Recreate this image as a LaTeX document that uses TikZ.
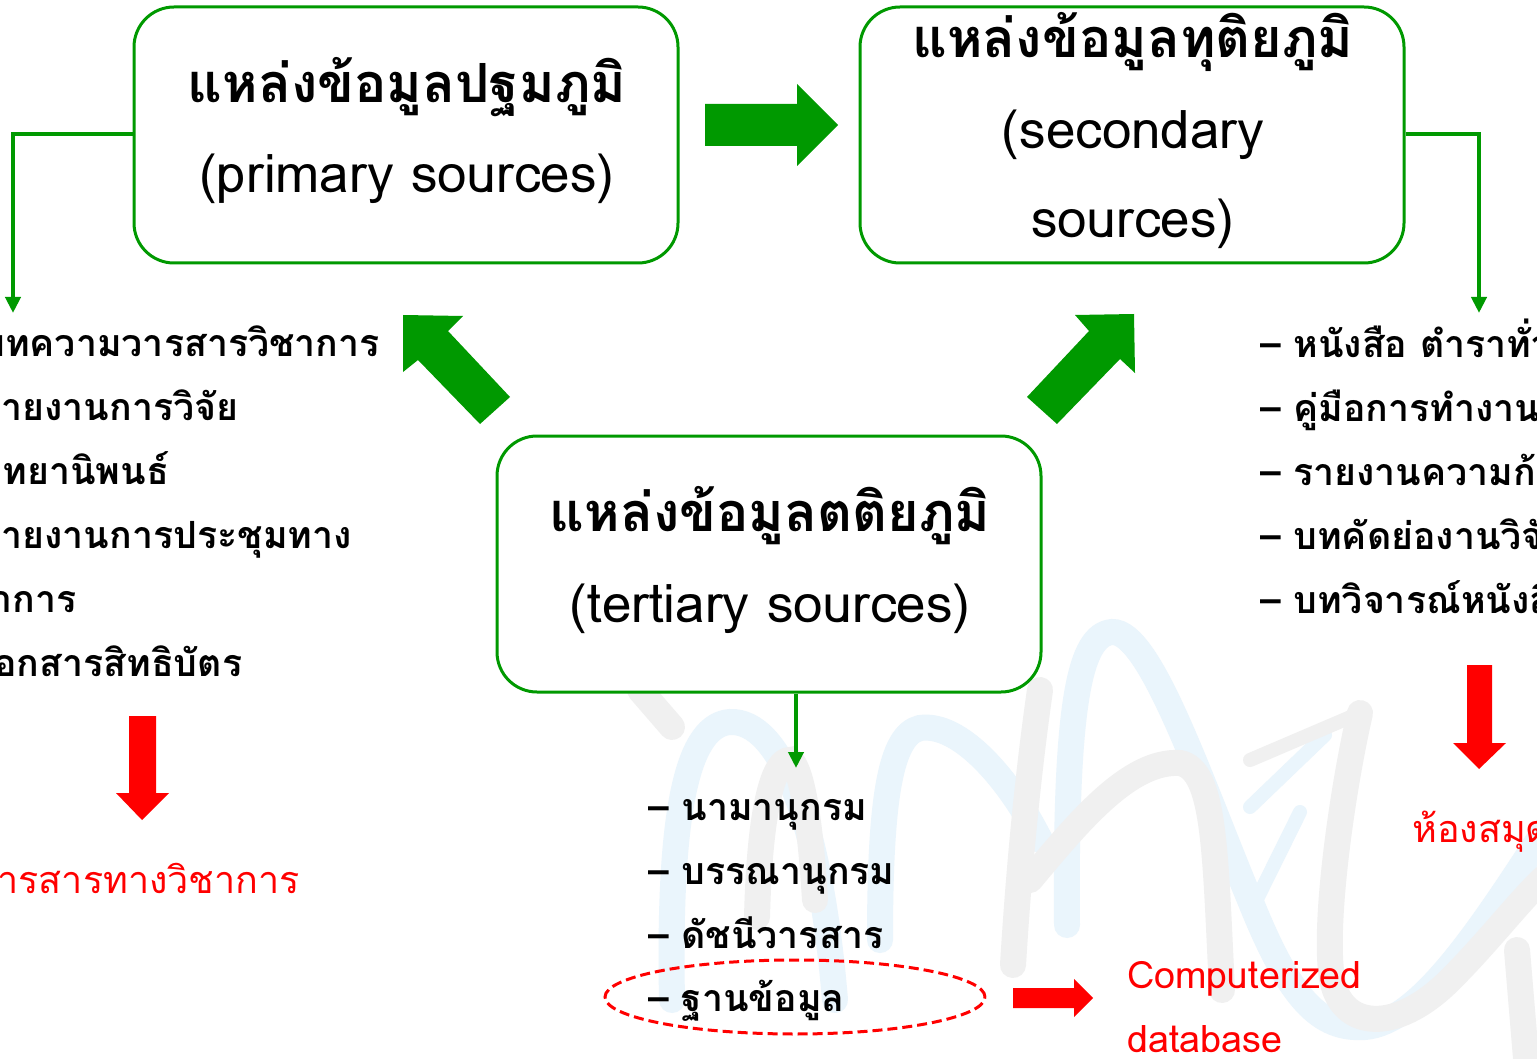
\documentclass[tikz,border=0pt]{standalone}
\usepackage{fontspec}
\usetikzlibrary{arrows.meta,shapes.geometric}
\newfontfamily\thai[Script=Thai]{Loma}
\definecolor{grn}{RGB}{0,153,0}
\definecolor{rd}{RGB}{255,0,0}
\definecolor{wmgray}{RGB}{240,240,240}
\definecolor{wmblue}{RGB}{234,245,252}
\tikzset{
  srcbox/.style={draw=grn, line width=3pt, rounded corners=40pt, fill=white,
    minimum width=544pt, minimum height=256pt, inner sep=0pt},
  title/.style={anchor=base, inner sep=0pt, font=\thai\fontsize{53}{60}\selectfont},
  ttitle/.style={anchor=base, inner sep=0pt, font=\thai\bfseries\fontsize{54}{60}\selectfont},
  item/.style={anchor=base west, inner sep=0pt, font=\thai\bfseries\fontsize{37.5}{44}\selectfont},
  redtxt/.style={anchor=base west, inner sep=0pt, text=rd, font=\thai\fontsize{37.7}{44}\selectfont},
  link/.style={draw=grn, line width=4.5pt, -{Triangle[width=15pt,length=16pt]}},
  wm/.style={line width=26pt, line cap=round},
  bigarrow/.style={fill=grn, draw=none},
  redarrow/.style={fill=rd, draw=none}
}
\begin{document}
\begin{tikzpicture}[x=1pt,y=-1pt]
\fill[white] (0,0) rectangle (1537,1059);
\useasboundingbox (0,0) rectangle (1537,1059);
% watermark
\draw[wm, wmblue] (672,1000) .. controls (668,800) and (690,725) .. (730,722) .. controls (780,720) and (820,820) .. (835,1000);
\draw[wm, wmblue] (880,940) .. controls (880,800) and (890,735) .. (920,728) .. controls (960,722) and (1010,780) .. (1040,840);
\draw[wm, wmblue] (1067,925) .. controls (1065,700) and (1080,635) .. (1112,632) .. controls (1150,630) and (1200,780) .. (1250,900) .. controls (1290,1000) and (1320,1030) .. (1365,1027) .. controls (1420,1022) and (1480,930) .. (1545,830);
\draw[wm, wmblue, line width=14pt] (1250,807) -- (1325,735);
\draw[wm, wmblue, line width=14pt] (1255,903) -- (1300,812);
\draw[wm, wmgray] (640,690) -- (672,727);
\draw[wm, wmgray] (757,917) .. controls (760,800) and (775,760) .. (790,760) .. controls (805,770) and (812,850) .. (815,900);
\draw[wm, wmgray] (1013,965) .. controls (1020,850) and (1030,760) .. (1040,690);
\draw[wm, wmgray] (1030,880) .. controls (1080,820) and (1130,760) .. (1180,763) .. controls (1215,770) and (1215,850) .. (1222,990);
\draw[wm, wmgray, line width=14pt] (1250,760) -- (1360,713);
\draw[wm, wmgray] (1360,713) .. controls (1340,800) and (1320,950) .. (1335,990) .. controls (1350,1030) and (1400,1030) .. (1450,980) .. controls (1490,940) and (1520,900) .. (1545,877);
\draw[wm, wmgray] (1517,950) -- (1527,1070);

% boxes
\node[srcbox] (prim) at (406,135) {};
\node[srcbox] (sec) at (1132,135) {};
\node[srcbox] (ter) at (769,564) {};

\node[ttitle] (prim1) at (407,103) {แหล่งข้อมูลปฐมภูมิ};
\node[title] (prim2) at (407,193) {(primary sources)};
\node[ttitle] (sec1) at (1133,58) {แหล่งข้อมูลทุติยภูมิ};
\node[title] (sec2) at (1133,149) {(secondary};
\node[title] (sec3) at (1133,238) {sources)};
\node[ttitle] (ter1) at (770,531) {แหล่งข้อมูลตติยภูมิ};
\node[title] (ter2) at (770,622) {(tertiary sources)};

% big green arrows
\path[bigarrow] (705,104) -- (797,104) -- (797,84) -- (838,125) -- (797,166) -- (797,146) -- (705,146) -- cycle;
\path[bigarrow] (403,315) -- (463,316) -- (448,331) -- (510,397) -- (480,424) -- (418,360) -- (403,372) -- cycle;
\path[bigarrow] (1134,314) -- (1135,373) -- (1120,359) -- (1057,424) -- (1027,397) -- (1089,331) -- (1075,315) -- cycle;

% connectors
\coordinate (lend) at (13,313);
\coordinate (rend) at (1479,313);
\coordinate (bend) at (796,768);
\draw[link] (prim.west |- 0,134) -| (lend);
\draw[link] (sec.east |- 0,134) -| (rend);
\draw[link] (ter.south -| bend) -- (bend);

% left list
\node[item] (l1) at (-52,356) {– บทความวารสารวิชาการ};
\node[item] (l2) at (-52,420) {– รายงานการวิจัย};
\node[item] (l3) at (-52,484) {– วิทยานิพนธ์};
\node[item] (l4) at (-52,548) {– รายงานการประชุมทาง};
\node[item] (l5) at (-55,612) {วิชาการ};
\node[item] (l6) at (-52,676) {– เอกสารสิทธิบัตร};

% right list
\node[item] (r1) at (1260,357) {– หนังสือ ตำราทั่วไป};
\node[item] (r2) at (1260,421) {– คู่มือการทำงาน};
\node[item] (r3) at (1260,485) {– รายงานความก้าวหน้า};
\node[item] (r4) at (1260,549) {– บทคัดย่องานวิจัย};
\node[item] (r5) at (1260,613) {– บทวิจารณ์หนังสือ};

% bottom list
\node[item] (c1) at (648,820) {– นามานุกรม};
\node[item] (c2) at (648,884) {– บรรณานุกรม};
\node[item] (c3) at (648,948) {– ดัชนีวารสาร};
\node[item] (c4) at (648,1011) {– ฐานข้อมูล};
\node[draw=rd, dashed, dash pattern=on 10pt off 5pt, line width=3pt, ellipse, minimum width=380pt, minimum height=74pt] (db) at (795,997) {};

% red arrows and labels
\path[redarrow] (129,716) -- (156,716) -- (156,793) -- (169,793) -- (142,820) -- (116,793) -- (129,793) -- cycle;
\path[redarrow] (1467,665) -- (1492,665) -- (1492,743) -- (1506,743) -- (1479,769) -- (1453,743) -- (1467,743) -- cycle;
\path[redarrow] (1013,988) -- (1074,988) -- (1074,979) -- (1093,998) -- (1074,1017) -- (1074,1008) -- (1013,1008) -- cycle;
\node[redtxt] (jour) at (-24,893) {วารสารทางวิชาการ};
\node[redtxt] (lib) at (1412,842) {ห้องสมุด};
\node[redtxt] (comp) at (1127,988) {Computerized};
\node[redtxt] (dbase) at (1127,1052) {database};
\end{tikzpicture}
\end{document}
